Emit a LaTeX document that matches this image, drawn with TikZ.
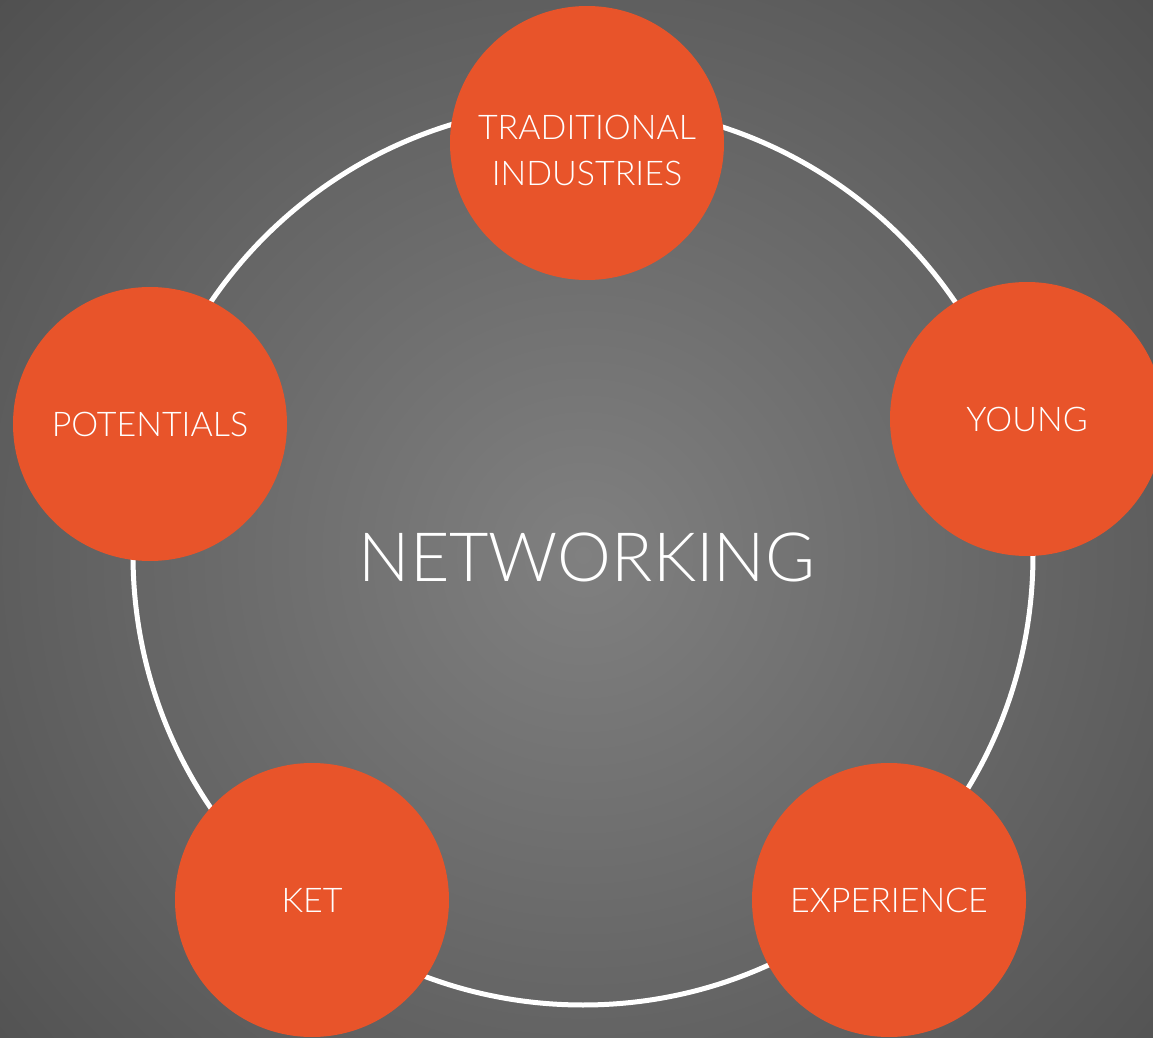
\documentclass[tikz,border=0pt]{standalone}
\usepackage{fontspec}
\IfFontExistsTF{Lato Light}{\setmainfont{Lato Light}}{\setmainfont{Lato}}
\definecolor{hubOrange}{HTML}{E8542A}
\definecolor{bgInner}{HTML}{808080}
\definecolor{bgOuter}{HTML}{474747}
\begin{document}
\begin{tikzpicture}[x=0.5pt,y=-0.5pt,
  bubble/.style={circle,fill=hubOrange,minimum size=137pt,inner sep=0pt,
    text=white,font=\fontsize{17}{23}\selectfont,align=center},
  bubbletext/.style={text=white,font=\fontsize{17}{23}\selectfont,align=center,inner sep=0pt},
  ring/.style={draw=white,line width=2.5pt},
  hubtext/.style={text=white,font=\fontsize{34}{40}\selectfont}]
\useasboundingbox (0,0) rectangle (1153,1038);
\begin{scope}
\clip (0,0) rectangle (1153,1038);
\shade[inner color=bgInner,outer color=bgOuter] (583,555) circle[radius=480pt];
\end{scope}
\coordinate (mid) at (583,555);
\draw[ring] (mid) circle[radius=225pt];
\node[bubble] (trad) at (587,143) {};
\node[bubbletext] (tradtext) at ([yshift=-3.5pt]trad.center) {TRADITIONAL\\INDUSTRIES};
\node[bubble] (young) at (1027,419) {YOUNG};
\node[bubble] (exp) at (889,900) {EXPERIENCE};
\node[bubble] (ket) at (312,900) {KET};
\node[bubble] (pot) at (150,424) {POTENTIALS};
\node[hubtext] (hub) at (587,557) {NETWORKING};
\end{tikzpicture}
\end{document}
